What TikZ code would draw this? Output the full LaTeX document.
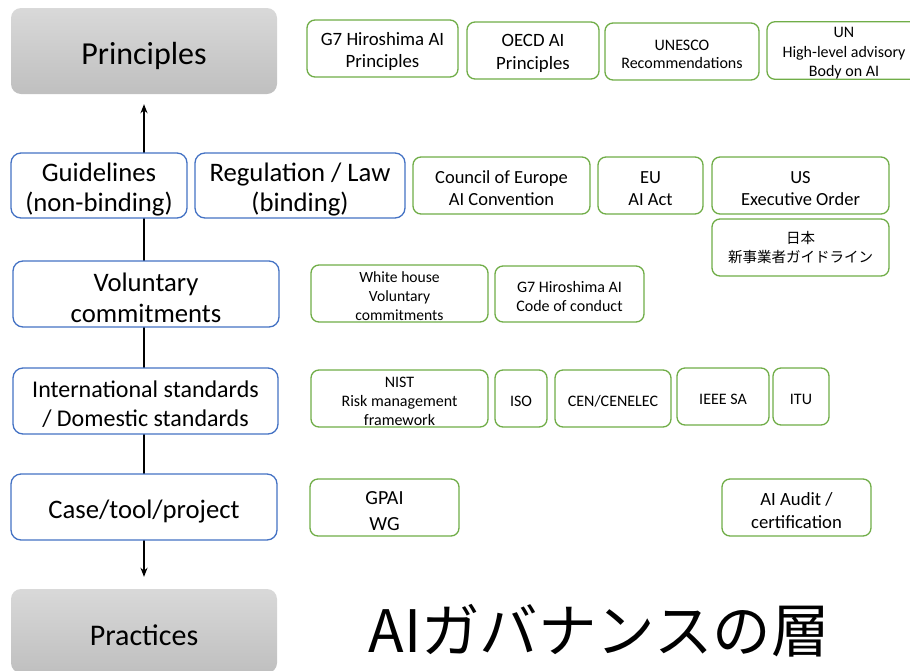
\documentclass[tikz,border=0pt]{standalone}
\usepackage{fontspec}
\setmainfont{Carlito}
\newfontfamily\cjk{Noto Sans CJK JP}
\usetikzlibrary{arrows.meta,backgrounds}
\definecolor{lblue}{HTML}{4472C4}
\definecolor{lgreen}{HTML}{70AD47}
\newcommand{\fs}[2]{\fontsize{#1}{#2}\selectfont}
\newcommand{\ts}{\rule{0pt}{1em}}
\tikzset{
  layerend/.style={rounded corners=10pt, top color=gray!30, bottom color=gray!50, draw=none, align=center, inner sep=0pt},
  layerbox/.style={rounded corners=10pt, draw=lblue, line width=1.3pt, fill=white, align=center, inner sep=0pt},
  itembox/.style={rounded corners=8pt, draw=lgreen, line width=1.3pt, fill=white, align=center, inner sep=0pt},
  spine/.style={line width=1.8pt, {Stealth[length=9pt,width=7pt]}-{Stealth[length=9pt,width=7pt]}},
}
\begin{document}
\begin{tikzpicture}[x=1pt,y=-1pt]
\useasboundingbox (0,0) rectangle (910,670);
\clip (0,0) rectangle (910,670);
% gray ends
\node[layerend, minimum width=266pt, minimum height=86pt, font=\fs{32}{38}] (prin) at (144,51) {\ts Principles};
\node[layerend, minimum width=266pt, minimum height=84pt, font=\fs{30}{36}] (prac) at (144,631) {\ts Practices};
% layers
\node[layerbox, minimum width=176pt, minimum height=65pt, font=\fs{26.7}{30}] (guide) at (99,185.5) {\ts Guidelines\\(non-binding)};
\node[layerbox, minimum width=210pt, minimum height=65pt, font=\fs{26.7}{30}] (reg) at (300,185.5) {\ts Regulation / Law\\(binding)};
\node[layerbox, minimum width=266pt, minimum height=66pt, font=\fs{26.7}{31}] (vol) at (146,294) {\ts Voluntary\\commitments};
\node[layerbox, minimum width=265pt, minimum height=66pt, font=\fs{24}{29}] (intl) at (145.5,401) {\ts International standards\\/ Domestic standards};
\node[layerbox, minimum width=266pt, minimum height=66pt, font=\fs{26.7}{30}] (case) at (144,507) {\ts Case/tool/project};
% spine
\begin{scope}[on background layer]
\draw[spine] ([yshift=-10pt]prin.south) -- ([yshift=12pt]prac.north);
\end{scope}
% items: principles
\node[itembox, minimum width=151pt, minimum height=57pt, font=\fs{18.8}{22}] (g7p) at (382.5,48.5) {\ts G7 Hiroshima AI\\Principles};
\node[itembox, minimum width=132pt, minimum height=57pt, font=\fs{18.8}{23}] (oecd) at (533,50.5) {\ts OECD AI\\Principles};
\node[itembox, minimum width=154pt, minimum height=57pt, font=\fs{16}{18.5}] (unesco) at (682,51.5) {\ts UNESCO\\Recommendations};
\node[itembox, minimum width=154pt, minimum height=57pt, font=\fs{16}{19.5}] (un) at (844,50.5) {\ts UN\\High-level advisory\\Body on AI};
% regulation
\node[itembox, minimum width=177pt, minimum height=57pt, font=\fs{18.5}{22}] (coe) at (501.5,185.5) {\ts Council of Europe\\AI Convention};
\node[itembox, minimum width=105pt, minimum height=57pt, font=\fs{18.5}{22}] (eu) at (650.5,185.5) {\ts EU\\AI Act};
\node[itembox, minimum width=177pt, minimum height=57pt, font=\fs{18.5}{22}] (us) at (800.5,185.5) {\ts US\\Executive Order};
\node[itembox, minimum width=177pt, minimum height=57pt, font=\fs{14.5}{19}\cjk] (jp) at (800.5,247.5) {日本\\新事業者ガイドライン};
% voluntary
\node[itembox, minimum width=177pt, minimum height=57pt, font=\fs{15.6}{19}] (wh) at (399.5,293.5) {\ts White house\\Voluntary\\commitments};
\node[itembox, minimum width=149pt, minimum height=56pt, font=\fs{16}{19}] (g7c) at (569.5,294) {\ts G7 Hiroshima AI\\Code of conduct};
% standards
\node[itembox, minimum width=177pt, minimum height=57pt, font=\fs{16}{19}] (nist) at (399.5,398.5) {\ts NIST\\Risk management\\framework};
\node[itembox, minimum width=52pt, minimum height=57pt, font=\fs{16}{19}] (iso) at (521,398.5) {\ts ISO};
\node[itembox, minimum width=116pt, minimum height=57pt, font=\fs{16}{19}] (cen) at (613,398.5) {\ts CEN/CENELEC};
\node[itembox, minimum width=92pt, minimum height=57pt, font=\fs{16}{19}] (ieee) at (723,396.5) {\ts IEEE SA};
\node[itembox, minimum width=56pt, minimum height=57pt, font=\fs{16}{19}] (itu) at (801,396.5) {\ts ITU};
% cases
\node[itembox, minimum width=149pt, minimum height=57pt, font=\fs{20}{26}] (gpai) at (384.5,507.5) {\ts GPAI\\WG};
\node[itembox, minimum width=149pt, minimum height=57pt, font=\fs{18.7}{23}] (audit) at (796.5,507.5) {\ts AI Audit /\\certification};
% title
\node[font=\fs{58.5}{64}\cjk, inner sep=0pt] (title) at (599,631) {AIガバナンスの層};
\end{tikzpicture}
\end{document}
